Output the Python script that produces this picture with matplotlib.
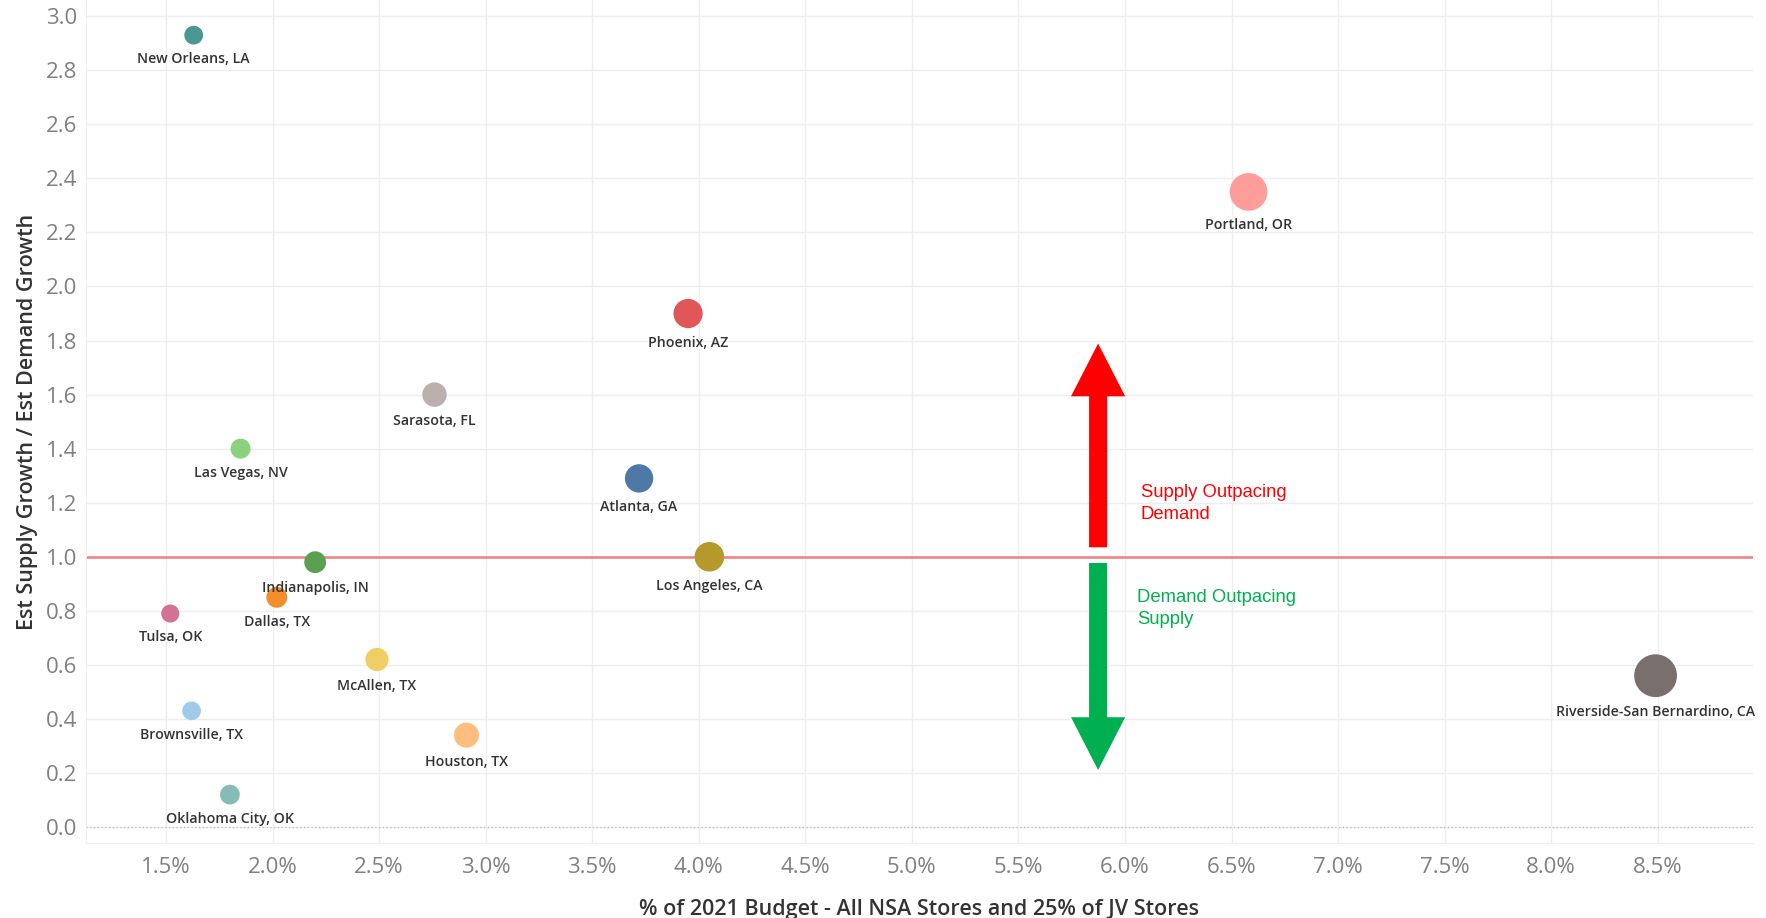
import numpy as np
import matplotlib.pyplot as plt
from matplotlib.ticker import FuncFormatter

# market data
markets = ["New Orleans, LA", "Portland, OR", "Phoenix, AZ", "Sarasota, FL",
           "Las Vegas, NV", "Atlanta, GA", "Los Angeles, CA", "Indianapolis, IN",
           "Dallas, TX", "Tulsa, OK", "McAllen, TX", "Brownsville, TX",
           "Houston, TX", "Oklahoma City, OK", "Riverside-San Bernardino, CA"]
budget_pct = [1.63, 6.58, 3.95, 2.76, 1.85, 3.72, 4.05, 2.20,
              2.02, 1.52, 2.49, 1.62, 2.91, 1.80, 8.49]
supply_demand = [2.93, 2.35, 1.90, 1.60, 1.40, 1.29, 1.00, 0.98,
                 0.85, 0.79, 0.62, 0.43, 0.34, 0.12, 0.56]
colors = ["#499894", "#FF9D9A", "#E15759", "#BAB0AC", "#8CD17D", "#4E79A7",
          "#B6992D", "#59A14F", "#F28E2B", "#D37295", "#F1CE63", "#A0CBE8",
          "#FFBE7D", "#86BCB6", "#79706E"]

x_ticks = np.arange(1.5, 8.51, 0.5)
y_ticks = np.arange(0.0, 3.01, 0.2)

fig = plt.figure(figsize=(17.66, 9.18), dpi=100)
ax = fig.add_axes([0.0485, 0.0817, 0.944, 0.9183])
ax.set_xlim(1.123, 8.946)
ax.set_ylim(-0.059, 3.06)

# marker area proportional to budget share
size_k = 112
sizes = [b * size_k for b in budget_pct]
ax.scatter(budget_pct, supply_demand, s=sizes, c=colors, edgecolors="none", zorder=3)

for name, x, y, s in zip(markets, budget_pct, supply_demand, sizes):
    r_pt = np.sqrt(s) / 2
    ax.annotate(name, (x, y), xytext=(0, -(r_pt + 5.5)), textcoords="offset points",
                ha="center", va="top", fontsize=10.2, fontweight="semibold",
                family="Open Sans", color="#333333", zorder=4)

# reference lines
ax.axhline(1.0, color="#F08080", lw=1.8, zorder=2)
ax.axhline(0.0, color="#BBBBBB", lw=0.9, ls=(0, (1, 2)), zorder=1)

# arrows
arrow_x = 5.874
arrow_style = "simple,head_length=38,head_width=39,tail_width=13"
ax.annotate("", xy=(arrow_x, 1.789), xytext=(arrow_x, 1.035),
            arrowprops=dict(arrowstyle=arrow_style, mutation_scale=1, color="#FF0000",
                            shrinkA=0, shrinkB=0, lw=0))
ax.annotate("", xy=(arrow_x, 0.211), xytext=(arrow_x, 0.977),
            arrowprops=dict(arrowstyle=arrow_style, mutation_scale=1, color="#00B050",
                            shrinkA=0, shrinkB=0, lw=0))
ax.text(6.075, 1.197, "Supply Outpacing\nDemand", color="#FF0000", fontsize=13.3,
        family="Liberation Sans", va="center", ha="left", linespacing=1.35)
ax.text(6.058, 0.809, "Demand Outpacing\nSupply", color="#00B050", fontsize=13.3,
        family="Liberation Sans", va="center", ha="left", linespacing=1.35)

# axes styling
ax.set_xticks(x_ticks)
ax.set_yticks(y_ticks)
ax.xaxis.set_major_formatter(FuncFormatter(lambda v, p: f"{v:.1f}%"))
ax.yaxis.set_major_formatter(FuncFormatter(lambda v, p: f"{v:.1f}"))
ax.grid(True, color="#EEEEEE", lw=1, zorder=0)
ax.set_axisbelow(True)
for side in ["top", "right"]:
    ax.spines[side].set_visible(False)
for side in ["left", "bottom"]:
    ax.spines[side].set_color("#EEEEEE")
ax.tick_params(axis="x", length=0, labelsize=16, labelcolor="#808080", pad=10)
ax.tick_params(axis="y", length=0, labelsize=16, labelcolor="#808080", pad=6)
for lab in ax.get_xticklabels() + ax.get_yticklabels():
    lab.set_family("Open Sans")

ax.set_xlabel("% of 2021 Budget - All NSA Stores and 25% of JV Stores", fontsize=15.5,
              family="Open Sans", fontweight="semibold", color="#333333", labelpad=15)
ax.set_ylabel("Est Supply Growth / Est Demand Growth", fontsize=15.5,
              family="Open Sans", fontweight="semibold", color="#333333", labelpad=6)

fig.savefig("out.png", dpi=100)
